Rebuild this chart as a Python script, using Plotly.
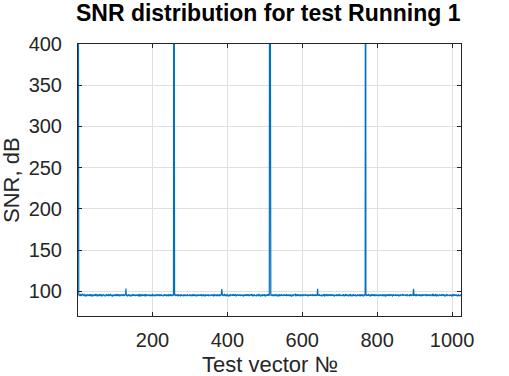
import plotly.graph_objects as go

title_text = "SNR distribution for test Running 1"
x_label = "Test vector №"
y_label = "SNR, dB"
x_ticks = [200, 400, 600, 800, 1000]
y_ticks = [100, 150, 200, 250, 300, 350, 400]

snr_db = [
    1000, 95.2, 94.8, 95.9, 95.1, 94.3, 95.6, 96.1, 95.0, 94.7, 95.4, 96.3, 95.2, 94.9, 95.8, 95.3,
    94.6, 95.5, 96.0, 95.1, 93.9, 95.7, 95.2, 94.8, 96.2, 95.4, 95.0, 94.5, 95.9, 95.3, 94.9, 95.6,
    95.1, 96.4, 95.2, 94.7, 95.5, 95.0, 93.7, 95.8, 95.3, 94.9, 96.0, 95.4, 95.1, 94.4, 95.7, 95.2,
    96.1, 95.0, 94.8, 95.6, 95.3, 94.2, 95.9, 95.1, 94.7, 95.5, 96.3, 95.2, 94.9, 95.4, 93.8, 95.7,
    95.3, 94.6, 95.8, 95.1, 96.0, 95.4, 94.9, 95.2, 94.3, 95.7, 95.0, 96.2, 95.5, 94.8, 95.3, 95.9,
    94.5, 95.2, 95.6, 94.1, 95.9, 95.3, 94.8, 96.1, 95.0, 95.4, 94.6, 95.8, 95.2, 93.6, 95.5, 95.1,
    95.7, 94.9, 95.3, 96.4, 95.0, 94.7, 95.6, 95.2, 94.4, 95.8, 95.1, 94.9, 96.0, 95.3, 94.6, 95.5,
    95.2, 95.9, 94.3, 95.4, 95.1, 96.2, 94.8, 95.5, 95.0, 94.2, 95.7, 95.3, 94.9, 95.6, 96.1, 95.0,
    103.2, 95.1, 94.7, 95.6, 95.3, 94.4, 95.9, 95.0, 96.3, 94.8, 95.4, 95.1, 93.9, 95.7, 95.2, 94.6,
    95.5, 96.0, 95.2, 94.5, 95.8, 95.1, 94.9, 95.4, 96.1, 94.3, 95.6, 95.0, 95.3, 94.7, 95.9, 95.2,
    94.8, 95.4, 95.7, 93.7, 95.3, 96.0, 95.1, 94.6, 95.5, 95.2, 94.9, 96.2, 95.0, 94.4, 95.8, 95.3,
    95.1, 94.7, 96.3, 95.4, 94.9, 95.6, 95.0, 94.1, 95.7, 95.2, 95.9, 94.8, 95.3, 96.0, 94.5, 95.4,
    95.6, 95.0, 94.6, 95.9, 95.2, 94.3, 95.5, 96.1, 95.1, 94.8, 95.4, 93.8, 95.7, 95.2, 94.9, 96.2,
    95.3, 94.7, 95.8, 95.0, 96.4, 95.1, 94.5, 95.6, 95.2, 94.9, 95.7, 95.3, 94.2, 95.5, 96.0, 95.1,
    94.9, 95.5, 95.2, 94.4, 95.8, 95.0, 96.2, 95.3, 94.7, 95.6, 95.1, 94.8, 95.9, 93.9, 95.4, 95.2,
    96.0, 95.1, 94.6, 95.7, 95.3, 94.9, 95.5, 96.3, 95.0, 94.3, 95.8, 95.2, 94.8, 95.4, 95.1, 95.6,
    1000, 95.3, 94.9, 95.6, 95.0, 94.4, 95.8, 95.2, 96.1, 94.7, 95.5, 95.1, 94.2, 95.7, 95.3, 94.8,
    95.9, 95.2, 94.6, 95.5, 96.2, 95.0, 94.8, 95.4, 95.1, 93.8, 95.6, 95.3, 94.9, 96.0, 95.2, 94.5,
    95.7, 95.1, 94.7, 95.8, 95.3, 96.3, 94.9, 95.4, 95.0, 94.4, 95.9, 95.2, 94.8, 95.5, 96.1, 95.0,
    94.6, 95.3, 95.7, 94.2, 95.6, 95.1, 94.9, 96.0, 95.4, 94.7, 95.2, 95.8, 93.7, 95.5, 95.0, 95.9,
    95.2, 94.8, 96.2, 95.3, 94.5, 95.7, 95.1, 94.9, 95.6, 96.4, 95.0, 94.6, 95.4, 95.2, 94.3, 95.8,
    95.0, 95.5, 94.7, 95.9, 95.2, 94.1, 95.6, 95.3, 96.1, 94.8, 95.4, 95.0, 94.6, 95.7, 95.1, 96.0,
    94.9, 95.4, 95.1, 94.4, 95.8, 95.2, 96.3, 94.7, 95.5, 95.0, 93.9, 95.6, 95.3, 94.8, 95.9, 95.1,
    95.6, 94.5, 95.2, 96.0, 95.0, 94.9, 95.7, 95.3, 94.2, 95.5, 95.1, 96.2, 94.8, 95.4, 95.0, 95.8,
    102.8, 95.0, 94.6, 95.7, 95.2, 94.8, 95.5, 96.1, 95.1, 94.3, 95.9, 95.3, 94.7, 95.4, 96.0, 95.2,
    94.9, 95.6, 95.0, 93.8, 95.8, 95.3, 94.6, 95.5, 96.2, 95.1, 94.8, 95.4, 95.7, 94.4, 95.2, 95.9,
    95.3, 94.7, 96.0, 95.1, 94.9, 95.6, 95.2, 94.1, 95.8, 95.0, 96.3, 94.8, 95.5, 95.2, 94.5, 95.7,
    95.1, 95.4, 94.8, 96.1, 95.0, 94.6, 95.9, 95.3, 94.9, 95.5, 93.7, 95.8, 95.2, 94.7, 96.0, 95.3,
    94.5, 95.7, 95.2, 94.9, 95.4, 96.2, 95.0, 94.3, 95.6, 95.1, 94.8, 95.9, 95.3, 96.4, 94.6, 95.2,
    95.8, 95.0, 94.7, 95.5, 95.1, 94.2, 95.7, 96.0, 95.2, 94.9, 95.4, 95.0, 94.4, 95.8, 95.3, 94.8,
    95.6, 96.1, 95.1, 94.6, 95.3, 95.9, 94.9, 95.4, 93.9, 95.7, 95.2, 94.8, 96.2, 95.0, 94.5, 95.5,
    95.2, 94.7, 95.8, 95.3, 96.0, 94.4, 95.6, 95.1, 94.9, 95.4, 96.3, 95.0, 94.6, 95.7, 95.2, 94.9,
    1000, 95.4, 95.0, 94.5, 95.8, 95.2, 96.1, 94.8, 95.5, 95.1, 94.3, 95.7, 95.3, 94.9, 95.6, 96.0,
    95.1, 94.6, 95.4, 95.9, 95.0, 93.8, 95.7, 95.2, 94.8, 96.2, 95.3, 94.7, 95.5, 95.1, 94.4, 95.8,
    95.3, 96.0, 94.9, 95.2, 95.6, 94.5, 95.1, 95.8, 96.3, 94.7, 95.4, 95.0, 94.2, 95.7, 95.3, 94.9,
    95.5, 95.1, 94.6, 96.1, 95.3, 94.8, 95.9, 95.0, 94.4, 95.6, 95.2, 93.7, 95.8, 95.4, 96.0, 94.9,
    95.2, 94.7, 95.6, 95.1, 96.4, 95.0, 94.5, 95.7, 95.3, 94.9, 95.5, 96.1, 94.3, 95.8, 95.2, 94.8,
    95.9, 95.3, 94.6, 95.4, 95.0, 96.2, 94.8, 95.6, 95.1, 94.2, 95.7, 95.3, 94.9, 95.5, 95.0, 96.0,
    94.7, 95.2, 95.8, 94.4, 95.5, 95.1, 93.9, 95.7, 96.1, 95.0, 94.8, 95.4, 95.2, 96.3, 94.6, 95.3,
    95.6, 95.0, 94.9, 95.8, 95.2, 94.5, 95.9, 95.3, 94.7, 96.0, 95.1, 94.4, 95.6, 95.2, 94.9, 95.5,
    103.0, 94.8, 95.5, 95.1, 96.2, 94.6, 95.7, 95.2, 94.9, 95.4, 93.8, 95.9, 95.0, 94.7, 95.6, 95.3,
    96.1, 95.0, 94.5, 95.8, 95.3, 94.9, 95.5, 96.0, 95.1, 94.3, 95.7, 95.2, 94.8, 95.4, 96.2, 95.0,
    94.6, 95.9, 95.2, 94.8, 95.6, 95.0, 96.3, 94.4, 95.5, 95.1, 94.9, 95.8, 95.3, 93.7, 95.4, 95.2,
    95.7, 95.1, 94.7, 96.0, 95.2, 94.5, 95.6, 95.3, 94.9, 95.8, 96.1, 95.0, 94.3, 95.5, 95.1, 95.9,
    95.0, 94.6, 95.4, 95.2, 94.8, 96.2, 95.1, 95.7, 94.2, 95.3, 95.9, 95.0, 94.7, 95.6, 96.4, 95.1,
    94.9, 95.5, 95.0, 94.4, 95.8, 95.3, 94.8, 95.6, 96.0, 95.1, 93.9, 95.7, 95.2, 94.6, 95.4, 95.0,
    95.8, 95.2, 94.9, 95.5, 96.1, 94.7, 95.3, 95.0, 94.5, 95.9, 95.2, 96.3, 94.8, 95.4, 95.1, 94.3,
    95.6, 95.1, 94.6, 95.7, 95.3, 94.9, 96.0, 95.2, 94.8, 95.5, 95.0, 94.4, 95.8, 95.3, 96.2, 94.7,
    1000, 95.2, 95.6, 94.8, 95.1, 95.9, 94.5, 95.4, 96.1, 95.0, 94.7, 95.7, 95.3, 93.8, 95.5, 95.1,
    94.9, 95.8, 95.2, 94.6, 96.3, 95.0, 95.4, 94.3, 95.7, 95.1, 94.8, 95.6, 96.0, 95.2, 94.9, 95.5,
    95.3, 94.7, 95.9, 95.1, 94.4, 95.6, 95.2, 96.2, 94.8, 95.4, 95.0, 94.2, 95.8, 95.3, 94.9, 96.1,
    95.0, 95.5, 94.6, 95.2, 95.9, 95.3, 93.7, 95.6, 95.1, 94.8, 96.0, 95.4, 94.5, 95.7, 95.2, 94.9,
    95.6, 96.1, 95.0, 94.7, 95.3, 95.8, 94.9, 95.2, 94.3, 95.5, 96.3, 95.1, 94.8, 95.4, 95.0, 95.9,
    94.4, 95.7, 95.2, 94.9, 96.0, 95.1, 94.6, 95.5, 95.3, 93.9, 95.8, 95.0, 94.7, 96.2, 95.4, 95.1,
    95.2, 94.8, 95.6, 96.1, 95.0, 94.5, 95.7, 95.3, 94.9, 95.4, 95.1, 96.0, 94.2, 95.8, 95.2, 94.7,
    95.9, 95.3, 94.8, 95.5, 95.0, 94.4, 96.3, 95.2, 94.7, 95.6, 95.1, 94.9, 95.7, 95.3, 96.1, 95.0,
    102.9, 95.4, 94.6, 95.8, 95.2, 94.9, 95.5, 96.0, 95.1, 94.3, 95.7, 95.3, 94.8, 95.6, 95.0, 96.2,
    95.1, 94.7, 95.9, 95.3, 93.8, 95.6, 95.2, 94.9, 96.1, 95.0, 94.5, 95.8, 95.4, 94.8, 95.2, 95.7,
    96.0, 95.2, 94.6, 95.4, 95.1, 96.3, 94.8, 95.5, 95.0, 94.4, 95.9, 95.3, 94.9, 95.6, 95.2, 94.7,
    95.5, 95.0, 96.2, 94.9, 95.3, 95.8, 94.2, 95.6, 95.1, 94.8, 95.4, 96.0, 95.2, 93.9, 95.7, 95.3,
    94.8, 95.6, 95.1, 94.5, 95.9, 95.2, 96.1, 94.7, 95.4, 95.0, 94.9, 95.8, 95.3, 96.4, 94.6, 95.2,
    95.7, 95.1, 94.8, 95.5, 95.0, 94.3, 95.9, 95.4, 96.0, 95.1, 94.7, 95.6, 95.2, 94.9, 95.5, 95.0,
    94.6, 95.3, 96.2, 95.0, 94.8, 95.7, 95.2, 93.7, 95.6, 95.1, 94.9, 95.8, 96.1, 95.3, 94.5, 95.4,
    95.2, 95.9, 94.7, 95.5, 95.1, 94.4, 95.8, 95.3, 96.0, 94.9, 95.4, 95.0, 94.6, 95.7, 95.2, 95.5,
]
vector_no = list(range(1, len(snr_db) + 1))

FONT = "Liberation Sans, Arial, sans-serif"
AX = "#262626"
GRID = "#dfdfdf"

fig = go.Figure()
fig.add_trace(go.Scatter(
    x=vector_no, y=snr_db, mode="lines",
    line=dict(color="#0072BD", width=1.2),
    showlegend=False, hoverinfo="skip",
))

axis_common = dict(
    showline=True, linecolor=AX, linewidth=1, mirror="allticks",
    ticks="inside", ticklen=4, tickwidth=1, tickcolor=AX,
    showgrid=True, gridcolor=GRID, gridwidth=1, zeroline=False,
    tickfont=dict(family=FONT, size=20, color=AX),
    automargin=False,
)

fig.update_layout(
    width=509, height=376,
    margin=dict(l=78, r=48, t=44, b=60),
    paper_bgcolor="white", plot_bgcolor="white",
    title=dict(
        text="<b>" + title_text + "</b>",
        font=dict(family=FONT, size=23, color="black"),
        x=0.527, xanchor="center", y=0.987, yanchor="top", yref="container",
        automargin=False,
    ),
    xaxis=dict(
        range=[1, 1024], tickvals=x_ticks, ticktext=[str(v) for v in x_ticks],
        ticklabelstandoff=6,
        **axis_common,
    ),
    yaxis=dict(
        range=[70, 400], tickvals=y_ticks, ticktext=[str(v) for v in y_ticks],
        ticklabelstandoff=11,
        **axis_common,
    ),
    annotations=[
        dict(
            text=x_label, xref="paper", yref="paper", x=0.5, y=0,
            xanchor="center", yanchor="top", yshift=-34, showarrow=False,
            font=dict(family=FONT, size=22, color=AX),
        ),
        dict(
            text=y_label, xref="paper", yref="paper", x=0, y=0.5,
            xanchor="center", yanchor="middle", xshift=-67, showarrow=False,
            textangle=-90, font=dict(family=FONT, size=22, color=AX),
        ),
    ],
)

fig.write_html(
    "out.html",
    config={"displayModeBar": False},
    post_script="document.body.style.margin='0';",
)
